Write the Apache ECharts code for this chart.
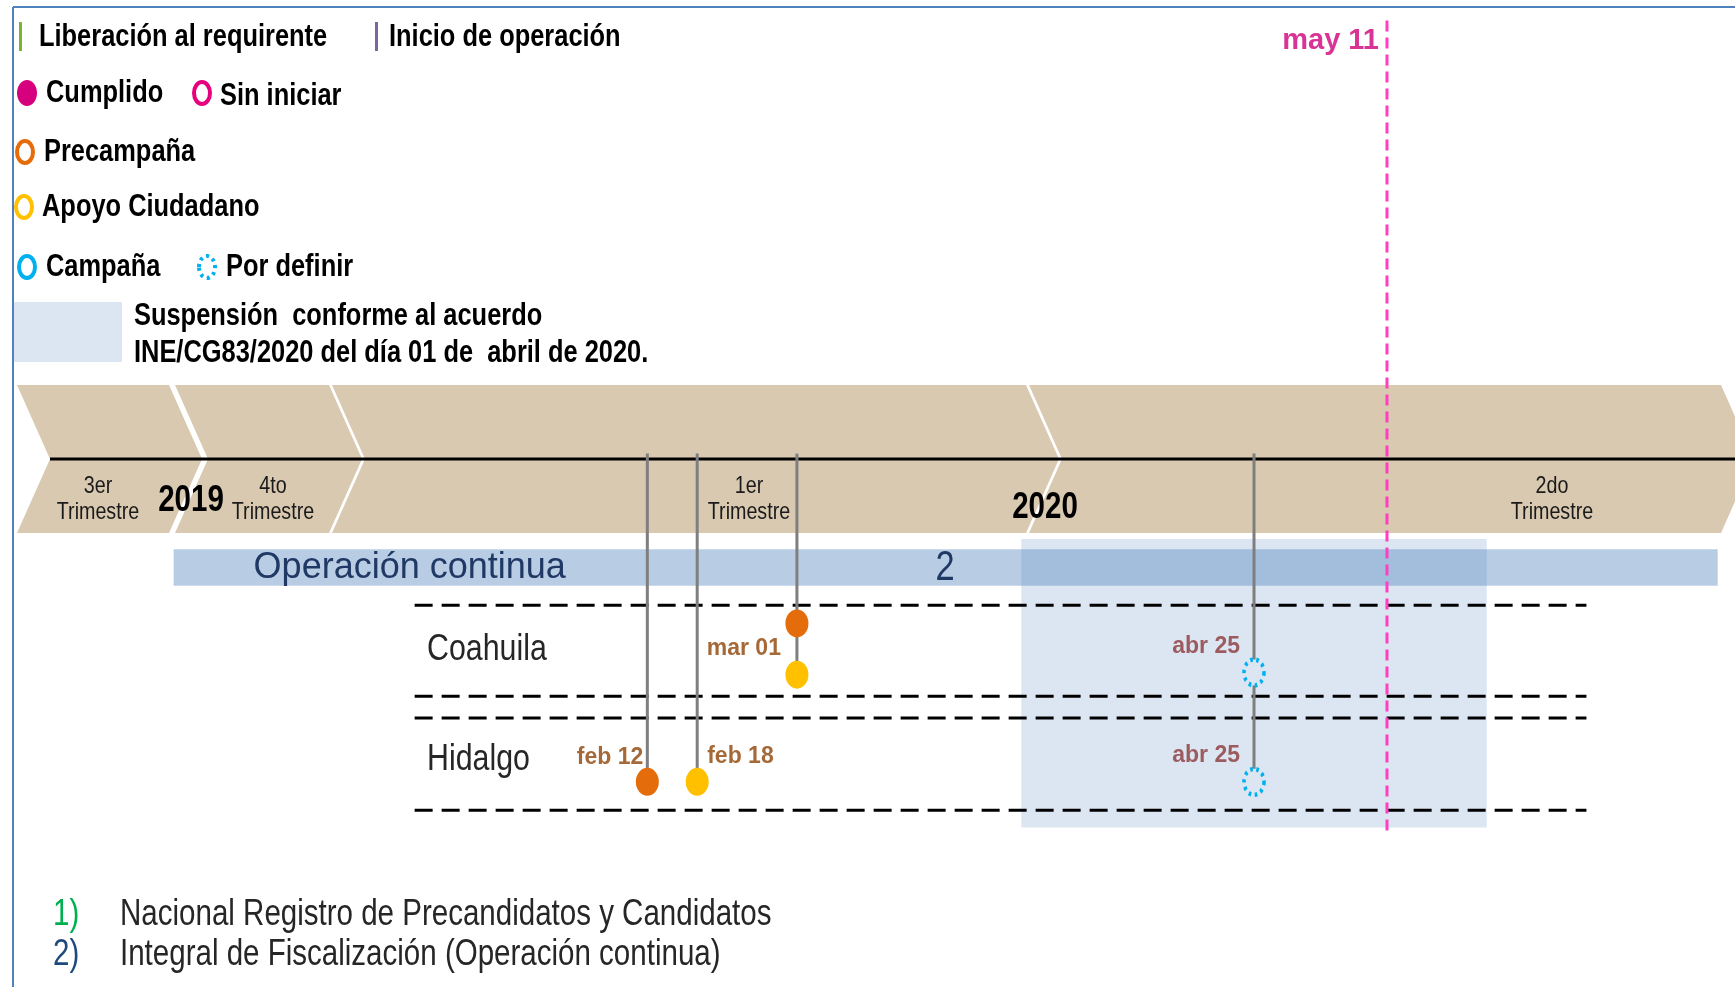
<!DOCTYPE html>
<html>
<head>
<meta charset="utf-8">
<script src="https://cdn.jsdelivr.net/npm/echarts@6/dist/echarts.min.js"></script>
<style>
  html, body { margin: 0; padding: 0; background: #fff; }
  #timeline { width: 1735px; height: 987px; }
</style>
</head>
<body>
<div id="timeline"></div>
<script>
// ---- datos ----
const estados = ['Coahuila', 'Hidalgo']
const precampana = ['2020-03-01', '2020-02-12']
const apoyoCiudadano = ['2020-03-01', '2020-02-18']
const campana = ['2020-04-25', '2020-04-25'] // por definir
const fechaCorte = '2020-05-11'
const suspension = ['2020-03-28', '2020-05-23']
const operacionContinua = ['2019-12-17', '2020-06-19T19:00:00']
const lineasFilas = ['2020-01-15', '2020-06-04']
const trimestres = ['3er\nTrimestre', '4to\nTrimestre', '1er\nTrimestre', '2do\nTrimestre']
const anios = ['2019', '2020']
const notas = ['Nacional Registro de Precandidatos y Candidatos', 'Integral de Fiscalización (Operación continua)']

// ---- layout ----
const SANS = "'Liberation Sans', Arial, sans-serif"
const NARROW_X = 0.82 // Arial Narrow aprox.
// eje y: 0 = linea de tiempo, 1 unidad = 114 px hacia abajo
const filaY = {
  Coahuila: { pre: 1.44, apo: 1.89, cam: 1.87 },
  Hidalgo: { pre: 2.83, apo: 2.83, cam: 2.83 }
}
const filaNombreY = [650, 760]
const separadores = [1.28, 2.08, 2.27, 3.08]
const chevronX = [[17, 169], [175, 329], [332, 1026], [1029, 1721]]
const trimestreX = [98, 273, 749, 1552]
const anioPos = [[191, 501], [1045, 508]]
const BAND = { top: 385, mid: 459, bot: 533, tip: 33 }

const MESES = ['ene', 'feb', 'mar', 'abr', 'may', 'jun', 'jul', 'ago', 'sep', 'oct', 'nov', 'dic']
function fmt (d) {
  const p = d.split('-')
  return MESES[+p[1] - 1] + ' ' + p[2]
}

function txt (text, x, y, size, extra) {
  return {
    type: 'text', z: 10, silent: true, x: x, y: y, scaleX: NARROW_X,
    style: Object.assign({
      text: text, x: 0, y: 0, fill: '#000', fontSize: size,
      fontFamily: SANS, fontWeight: 'bold', verticalAlign: 'middle', align: 'left'
    }, extra || {})
  }
}
function anillo (cx, cy, color, dash) {
  return {
    type: 'ellipse', z: 10, silent: true,
    shape: { cx: cx, cy: cy, rx: 8, ry: 11 },
    style: { fill: 'none', stroke: color, lineWidth: 4, lineDash: dash || null }
  }
}

const graphic = []
// marco
graphic.push(
  { type: 'line', z: 10, shape: { x1: 13, y1: 7, x2: 1735, y2: 7 }, style: { stroke: '#4F81BD', lineWidth: 2 } },
  { type: 'line', z: 10, shape: { x1: 13, y1: 7, x2: 13, y2: 987 }, style: { stroke: '#4F81BD', lineWidth: 2 } }
)
// leyenda
graphic.push(
  { type: 'rect', z: 10, shape: { x: 19, y: 22, width: 3, height: 29 }, style: { fill: '#77B52A' } },
  txt('Liberación al requirente', 39, 37, 31),
  { type: 'rect', z: 10, shape: { x: 375, y: 22, width: 3, height: 29 }, style: { fill: '#8064A2' } },
  txt('Inicio de operación', 389, 37, 31),
  { type: 'ellipse', z: 10, shape: { cx: 27, cy: 93, rx: 10, ry: 13 }, style: { fill: '#D6007F' } },
  txt('Cumplido', 46, 93, 31),
  anillo(202, 93, '#E6007E'),
  txt('Sin iniciar', 220, 96, 31),
  anillo(25, 152, '#E46C0A'),
  txt('Precampaña', 44, 152, 31),
  anillo(24, 207, '#FFC000'),
  txt('Apoyo Ciudadano', 42, 207, 31),
  anillo(27, 267, '#00B0F0'),
  txt('Campaña', 46, 267, 31),
  anillo(207, 267, '#00B0F0', [3, 4]),
  txt('Por definir', 226, 267, 31),
  { type: 'rect', z: 10, shape: { x: 14, y: 302, width: 108, height: 60 }, style: { fill: 'rgba(79,129,189,0.2)' } },
  txt('Suspensión  conforme al acuerdo', 134, 316, 31),
  txt('INE/CG83/2020 del día 01 de  abril de 2020.', 134, 353, 31)
)
// banda de trimestres
chevronX.forEach(function (c) {
  const l = c[0], r = c[1]
  graphic.push({
    type: 'polygon', z: 0, silent: true,
    shape: { points: [[l, BAND.top], [r, BAND.top], [r + BAND.tip, BAND.mid], [r, BAND.bot], [l, BAND.bot], [l + BAND.tip, BAND.mid]] },
    style: { fill: '#D8C9B0' }
  })
})
graphic.push({ type: 'line', z: 1, silent: true, shape: { x1: 50, y1: BAND.mid, x2: 1735, y2: BAND.mid }, style: { stroke: '#000', lineWidth: 3 } })
trimestres.forEach(function (t, i) {
  graphic.push(txt(t, trimestreX[i], 499, 24, { fontWeight: 'normal', align: 'center', lineHeight: 26, fill: '#1a1a1a' }))
})
anios.forEach(function (a, i) {
  graphic.push(txt(a, anioPos[i][0], anioPos[i][1], 36, { align: 'center' }))
})
graphic.push(txt('2', 945, 568, 42, { fontWeight: 'normal', align: 'center', fill: '#1F3864' }))
estados.forEach(function (e, i) {
  graphic.push(txt(e, 427, filaNombreY[i], 37, { fontWeight: 'normal', fill: '#262626' }))
})
// notas
const notaColor = ['#00B050', '#1F497D']
notas.forEach(function (n, i) {
  graphic.push(txt((i + 1) + ')', 53, 915 + i * 40, 36, { fontWeight: 'normal', fill: notaColor[i] }))
  graphic.push(txt(n, 120, 915 + i * 40, 36, { fontWeight: 'normal', fill: '#262626' }))
})

// ---- series ----
const marcas = []
estados.forEach(function (e, i) {
  marcas.push([precampana[i], filaY[e].pre], [apoyoCiudadano[i], filaY[e].apo], [campana[i], filaY[e].cam])
})
const fondo = {}
marcas.forEach(function (m) {
  fondo[m[0]] = Math.max(fondo[m[0]] === undefined ? -Infinity : fondo[m[0]], m[1])
})
const tallos = Object.keys(fondo).map(function (d) {
  return {
    type: 'line', z: 4, silent: true, symbol: 'none',
    data: [[d, -0.05], [d, fondo[d]]],
    lineStyle: { color: '#7F7F7F', width: 3 }
  }
})

const etiquetas = []
estados.forEach(function (e, i) {
  const f = filaY[e]
  if (precampana[i] === apoyoCiudadano[i]) {
    etiquetas.push({ value: [precampana[i], (f.pre + f.apo) / 2], texto: fmt(precampana[i]), label: { position: 'left', distance: 16 } })
  } else {
    etiquetas.push({ value: [precampana[i], f.pre - 0.21], texto: fmt(precampana[i]), label: { position: 'left', distance: 4 } })
    etiquetas.push({ value: [apoyoCiudadano[i], f.apo - 0.22], texto: fmt(apoyoCiudadano[i]), label: { position: 'right', distance: 10 } })
  }
  etiquetas.push({ value: [campana[i], f.cam - 0.23], texto: fmt(campana[i]), label: { position: 'left', distance: 14, color: '#8C3A3A' } })
})

const series = [
  {
    type: 'line', z: 1, silent: true, data: [],
    markArea: {
      silent: true,
      itemStyle: { color: '#B8CCE4' },
      label: { show: true, position: 'insideLeft', distance: 80, color: '#1F3864', fontSize: 36, fontFamily: SANS },
      data: [[{ name: 'Operación continua', xAxis: operacionContinua[0], yAxis: 0.79 }, { xAxis: operacionContinua[1], yAxis: 1.11 }]]
    }
  },
  {
    type: 'line', z: 2, silent: true, data: [],
    markArea: {
      silent: true,
      itemStyle: { color: 'rgba(79,129,189,0.2)' },
      label: { show: false },
      data: [[{ xAxis: suspension[0], yAxis: 0.70 }, { xAxis: suspension[1], yAxis: 3.23 }]]
    }
  }
]
separadores.forEach(function (y) {
  series.push({
    type: 'line', z: 3, silent: true, symbol: 'none',
    data: [[lineasFilas[0], y], [lineasFilas[1], y]],
    lineStyle: { color: '#000', width: 3, type: [18, 9] }
  })
})
tallos.forEach(function (s) { series.push(s) })
series.push(
  {
    type: 'line', z: 5, silent: true, symbol: 'none',
    data: [[fechaCorte, -3.85], [fechaCorte, 3.30]],
    lineStyle: { color: '#FF3FC0', width: 3, type: [11, 6] }
  },
  {
    type: 'scatter', z: 7, silent: true, symbolSize: 0,
    data: [[fechaCorte, -3.67]],
    label: { show: true, position: 'left', distance: 8, formatter: fmt(fechaCorte), color: '#D0007A', fontSize: 29, fontWeight: 'bold', fontFamily: SANS }
  },
  {
    name: 'Precampaña', type: 'scatter', z: 6, symbol: 'circle', symbolSize: [23, 28],
    itemStyle: { color: '#E46C0A', opacity: 1 },
    data: estados.map(function (e, i) { return [precampana[i], filaY[e].pre] })
  },
  {
    name: 'Apoyo Ciudadano', type: 'scatter', z: 6, symbol: 'circle', symbolSize: [23, 28],
    itemStyle: { color: '#FFC000', opacity: 1 },
    data: estados.map(function (e, i) { return [apoyoCiudadano[i], filaY[e].apo] })
  },
  {
    name: 'Campaña', type: 'scatter', z: 6, symbol: 'circle', symbolSize: [20, 26],
    itemStyle: { color: '#DCE6F2', borderColor: '#00B0F0', borderWidth: 4, borderType: [3, 4], opacity: 1 },
    data: estados.map(function (e, i) { return [campana[i], filaY[e].cam] })
  },
  {
    type: 'scatter', z: 7, silent: true, symbolSize: 0,
    label: {
      show: true, color: '#8F4306', fontSize: 23, fontWeight: 'bold', fontFamily: SANS,
      formatter: function (p) { return p.data.texto }
    },
    data: etiquetas
  }
)

const chart = echarts.init(document.getElementById('timeline'))
chart.setOption({
  animation: false,
  backgroundColor: '#fff',
  grid: { left: 50, right: 0, top: 0, bottom: 0 },
  xAxis: {
    type: 'time', min: '2019-12-02T03:00:00', max: '2020-06-21T21:00:00',
    axisLine: { show: false }, axisTick: { show: false }, axisLabel: { show: false }, splitLine: { show: false }
  },
  yAxis: { type: 'value', inverse: true, min: -4.03, max: 4.63, show: false, splitLine: { show: false } },
  graphic: graphic,
  series: series
})
</script>
</body>
</html>
